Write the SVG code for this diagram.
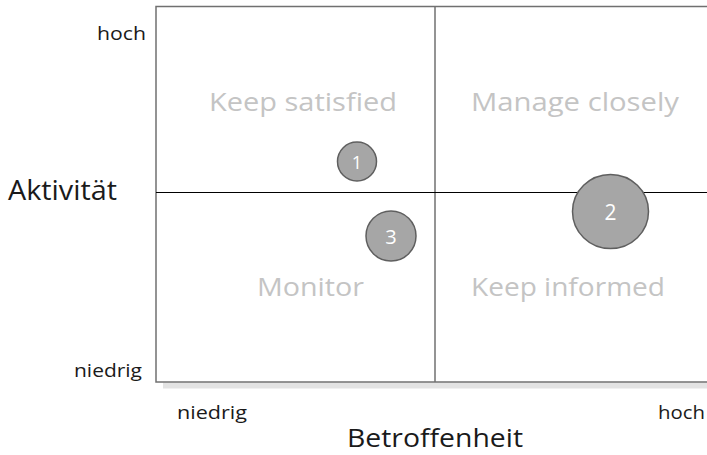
<svg xmlns="http://www.w3.org/2000/svg" width="707" height="455" viewBox="0 0 707 455">
<style>
.ax{font-family:"Open Sans","Liberation Sans",sans-serif;fill:#1a1a1a}
.q{font-family:"Open Sans","Liberation Sans",sans-serif;fill:#c4c4c4;font-size:26px}
.bub{fill:#a6a6a6;stroke:#5f5f5f;stroke-width:1.5}
.bt{font-family:"Open Sans","Liberation Sans",sans-serif;fill:#ffffff;text-anchor:middle}
</style>
<rect width="707" height="455" fill="#ffffff"/>
<g id="frame">
<rect x="163" y="382.5" width="544" height="6" fill="#e3e3e3"/>
<rect x="156" y="6.5" width="560" height="375.5" fill="#ffffff" stroke="#707070" stroke-width="1.5"/>
<line x1="435" y1="6.5" x2="435" y2="382" stroke="#707070" stroke-width="1.5"/>
<line x1="156" y1="192.5" x2="707" y2="192.5" stroke="#000000" stroke-width="1"/>
</g>
<g id="labels">
<text class="q" x="209" y="111" textLength="188" lengthAdjust="spacingAndGlyphs">Keep satisfied</text>
<text class="q" x="471" y="111" textLength="208" lengthAdjust="spacingAndGlyphs">Manage closely</text>
<text class="q" x="257" y="296" textLength="107" lengthAdjust="spacingAndGlyphs">Monitor</text>
<text class="q" x="471" y="296" textLength="194" lengthAdjust="spacingAndGlyphs">Keep informed</text>
<text class="ax" x="8" y="200" font-size="27" textLength="109" lengthAdjust="spacingAndGlyphs">Aktivität</text>
<text class="ax" x="97" y="40" font-size="19" textLength="49" lengthAdjust="spacingAndGlyphs">hoch</text>
<text class="ax" x="74" y="377" font-size="19" textLength="68" lengthAdjust="spacingAndGlyphs">niedrig</text>
<text class="ax" x="177" y="419" font-size="19" textLength="70" lengthAdjust="spacingAndGlyphs">niedrig</text>
<text class="ax" x="658" y="419" font-size="19" textLength="47" lengthAdjust="spacingAndGlyphs">hoch</text>
<text class="ax" x="347" y="447" font-size="26" textLength="176" lengthAdjust="spacingAndGlyphs">Betroffenheit</text>
</g>
<g id="node1">
<circle class="bub" cx="357" cy="161.5" r="19.5"/>
<text class="bt" x="357" y="168.5" font-size="18">1</text>
</g>
<g id="node3">
<circle class="bub" cx="391" cy="236" r="25"/>
<text class="bt" x="391" y="243.5" font-size="20">3</text>
</g>
<g id="node2">
<ellipse class="bub" cx="610.5" cy="211.5" rx="38" ry="37"/>
<text class="bt" x="610.5" y="219.5" font-size="21">2</text>
</g>
</svg>
